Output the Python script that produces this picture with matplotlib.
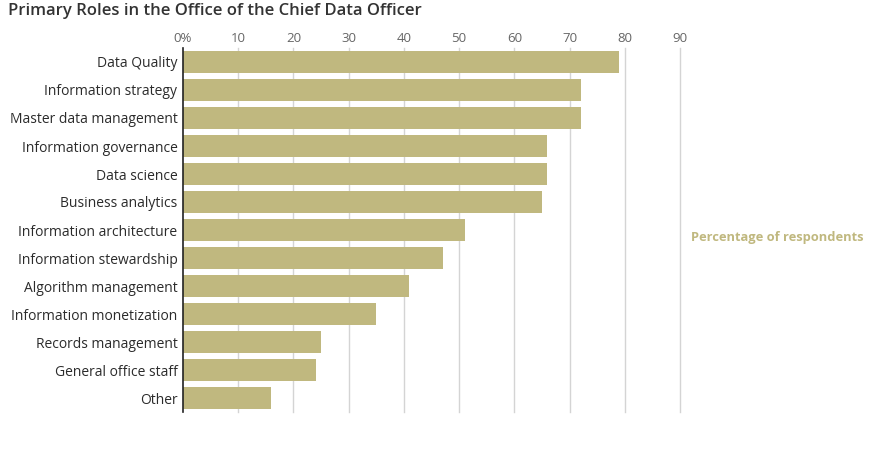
import matplotlib.pyplot as plt

# Data
roles = ["Data Quality", "Information strategy", "Master data management",
         "Information governance", "Data science", "Business analytics",
         "Information architecture", "Information stewardship",
         "Algorithm management", "Information monetization",
         "Records management", "General office staff", "Other"]
percent = [79, 72, 72, 66, 66, 65, 51, 47, 41, 35, 25, 24, 16]
tick_values = [0, 10, 20, 30, 40, 50, 60, 70, 80, 90]
tick_labels = ["0%", "10", "20", "30", "40", "50", "60", "70", "80", "90"]

bar_color = "#c0b87f"

plt.rcParams["font.family"] = ["Open Sans", "DejaVu Sans"]

fig = plt.figure(figsize=(8.79, 4.54), dpi=100)
ax = fig.add_axes([183 / 879, 1 - 412 / 454, (680 - 183) / 879, (412 - 48) / 454])

y = list(range(len(roles)))
ax.barh(y, percent, height=0.82, color=bar_color, zorder=2)
ax.set_ylim(len(roles) - 0.5, -0.5)
ax.set_xlim(0, 90)

ax.set_yticks(y)
ax.set_yticklabels(roles, fontsize=10, color="#2b2b2b")
ax.xaxis.tick_top()
ax.set_xticks(tick_values)
ax.set_xticklabels(tick_labels, fontsize=9.5, color="#666666")
ax.tick_params(axis="y", length=0, pad=4)
ax.tick_params(axis="x", length=0, pad=2)

for v in tick_values[1:]:
    ax.axvline(v, color="#d4d4d4", linewidth=1, zorder=1, clip_on=False)

for side in ["top", "right", "bottom"]:
    ax.spines[side].set_visible(False)
ax.spines["left"].set_color("#222222")
ax.spines["left"].set_linewidth(1.2)

fig.text(8 / 879, 1 - 11 / 454, "Primary Roles in the Office of the Chief Data Officer",
         fontsize=12, color="#333333", fontweight="semibold", va="center", ha="left")
fig.text(691 / 879, 1 - 238 / 454, "Percentage of respondents",
         fontsize=9.3, color=bar_color, fontweight="bold", va="center", ha="left")

fig.savefig("out.png", dpi=100)
